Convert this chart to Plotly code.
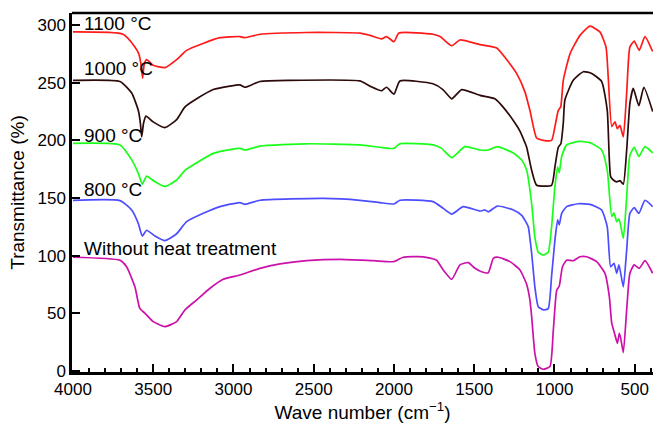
import plotly.graph_objects as go

# ---- data (wave number cm^-1, transmittance %) ----
wn_1100 = [4000, 3688, 3614, 3590, 3572, 3566, 3556, 3541, 3500, 3427, 3354, 3292, 3190, 3084, 2960, 2928, 2835, 2544,
           2212, 2150, 2077, 2046, 2000, 1969, 1757, 1713, 1640, 1589, 1464, 1360, 1298, 1236, 1184, 1153, 1111, 1070,
           1018, 997, 976, 961, 945, 903, 841, 779, 717, 679, 665, 643, 623, 608, 592, 571, 550, 530, 503, 472, 436, 388]
t_1100 = [294, 292, 281, 275, 262, 254, 266, 270, 265, 263, 270, 278, 284, 289, 290, 289, 292, 293.5,
          293, 291, 288, 290, 285.5, 293, 292, 290, 282, 287, 283, 280, 270, 258, 242, 226, 202, 200,
          200, 212, 226, 229, 252, 275, 291, 299, 294, 281, 255, 212, 216, 210, 213, 203, 241, 281, 286, 278, 290, 277]

wn_1000 = [4000, 3707, 3634, 3593, 3580, 3572, 3560, 3545, 3500, 3427, 3354, 3302, 3229, 3126, 3022, 2960, 2928, 2835,
           2648, 2212, 2150, 2077, 2046, 2000, 1963, 1757, 1695, 1640, 1578, 1464, 1371, 1321, 1246, 1215, 1184, 1173,
           1142, 1111, 1018, 997, 976, 960, 945, 935, 883, 820, 768, 706, 671, 650, 633, 612, 592, 571, 550, 530, 509,
           474, 443, 388]
t_1000 = [252, 251, 241, 226, 215, 203, 215, 221, 216, 211, 218, 229, 236, 244, 247, 248, 246, 251,
          252, 251.5, 247, 243, 246, 240, 251.5, 249, 244, 236, 244, 239, 236, 229, 215, 208, 198, 194,
          174, 161, 161, 177, 194, 197, 215, 235, 252, 259.5, 258, 251, 226, 168.5, 165.6, 164, 165, 162, 191.6, 232, 245,
          230, 246, 225]

wn_900 = [4000, 3707, 3634, 3593, 3568, 3541, 3489, 3427, 3354, 3302, 3229, 3126, 3022, 2960, 2928, 2835, 2544, 2212,
          2087, 2000, 1963, 1757, 1703, 1640, 1558, 1464, 1412, 1356, 1256, 1204, 1173, 1142, 1122, 1101, 1070, 1039,
          1018, 997, 980, 970, 955, 924, 851, 779, 706, 671, 643, 629, 612, 598, 571, 550, 530, 503, 474, 436, 388]
t_900 = [197.4, 196, 183, 171.4, 162, 169, 164, 160, 165.6, 174, 180.6, 188.7, 192, 193, 191.6, 195, 197, 196,
         194, 193, 197, 196, 193, 185, 194.5, 191.6, 191.6, 194.5, 189, 183, 174, 145, 116, 103, 100.6, 103,
         125, 160, 177, 172, 186, 196, 199, 198, 191.6, 174, 134, 137, 129.5, 132, 115, 151, 187, 194, 186, 194.5, 189]

wn_800 = [4000, 3707, 3634, 3593, 3568, 3541, 3489, 3427, 3354, 3292, 3188, 3084, 2960, 2928, 2835, 2440, 2212, 2087,
          2000, 1963, 1757, 1693, 1640, 1568, 1464, 1433, 1412, 1356, 1256, 1204, 1173, 1163, 1142, 1122, 1101, 1070,
          1039, 1018, 997, 980, 970, 955, 924, 851, 779, 706, 671, 650, 629, 612, 598, 571, 550, 530, 503, 474, 436, 388]
t_800 = [148, 147.7, 139.6, 128, 117, 122, 117, 113, 119, 129.5, 136.7, 142.5, 146, 144.5, 148, 149.6, 148, 146,
         144.8, 148, 146.8, 141, 136, 142.5, 138.7, 139.6, 138, 143, 139.6, 135, 128, 125, 102, 73, 55.7, 53,
         54, 82, 113.6, 131, 126.6, 136.7, 142.5, 145, 144.5, 139.6, 125, 90.4, 93.4, 84.7, 92, 73, 105, 136.7, 141.6,
         136.7, 148, 142.5]

wn_raw = [4000, 3707, 3666, 3614, 3583, 3551, 3500, 3427, 3354, 3302, 3229, 3146, 3064, 2960, 2835, 2710, 2544, 2336,
          2129, 2000, 1942, 1817, 1735, 1693, 1640, 1589, 1537, 1495, 1454, 1412, 1381, 1350, 1277, 1215, 1173, 1153,
          1142, 1122, 1101, 1070, 1028, 1007, 986, 970, 950, 924, 883, 841, 799, 737, 685, 658, 643, 623, 608, 596, 587,
          571, 550, 530, 503, 472, 436, 388]
t_raw = [98.6, 96, 90.4, 73, 54, 50, 42.8, 38.4, 42.8, 53, 61.6, 71.7, 79.5, 83.2, 89, 92.8, 95.6, 96.8,
         95.6, 94.8, 98.6, 99, 96, 87.6, 79.5, 92, 94, 89, 86, 85.2, 97.7, 98.6, 94.8, 87.6, 75, 61.6,
         47, 15.3, 3.8, 1.5, 3.8, 35.5, 70, 73.7, 90.4, 96, 95.6, 99, 99, 94.8, 84.6, 64.4, 41.4, 31.2, 24, 32.7, 28.3,
         15.9, 53, 84.7, 92, 89, 95.6, 84.7]

series_names = ["1100 °C", "1000 °C", "900 °C", "800 °C", "Without heat treatment"]
series_x = [wn_1100, wn_1000, wn_900, wn_800, wn_raw]
series_y = [t_1100, t_1000, t_900, t_800, t_raw]
series_colors = ["#ff1a1a", "#2d0a0a", "#1aff1a", "#4d4dff", "#cc10aa"]
label_y = [301.5, 262.7, 204.6, 157, 106.6]

x_ticks = [4000, 3500, 3000, 2500, 2000, 1500, 1000, 500]
y_ticks = [0, 50, 100, 150, 200, 250, 300]

FONT = "Liberation Sans, Arial, sans-serif"

fig = go.Figure()
for name, xs, ys, col in zip(series_names, series_x, series_y, series_colors):
    fig.add_trace(go.Scatter(x=xs, y=ys, mode="lines", name=name,
                             line=dict(color=col, width=1.7, shape="spline", smoothing=0.5)))

for name, ly in zip(series_names, label_y):
    fig.add_annotation(x=3944, y=ly, xref="x", yref="y", text=name, showarrow=False,
                       xanchor="left", yanchor="middle", font=dict(size=19, color="black", family=FONT))

fig.add_shape(type="line", xref="paper", yref="paper", x0=0, x1=1, y0=1, y1=1,
              line=dict(color="black", width=2.5))

fig.update_layout(
    width=653, height=425,
    margin=dict(l=72, r=0, t=13, b=53, autoexpand=False),
    paper_bgcolor="white", plot_bgcolor="white",
    showlegend=False,
    font=dict(family=FONT, size=17, color="black"),
    xaxis=dict(range=[4006, 386], tickvals=x_ticks, ticks="inside", ticklen=8, tickwidth=2,
               tickcolor="black", showline=True, linecolor="black", linewidth=2.5,
               showgrid=False, zeroline=False, automargin=False,
               minor=dict(dtick=100, tick0=0, ticks="inside", ticklen=4, tickwidth=1.5, tickcolor="black"),
               title=dict(text="Wave number (cm<sup>−1</sup>)", font=dict(size=19), standoff=4),
               tickfont=dict(size=17)),
    yaxis=dict(range=[-0.9, 310.4], tickvals=y_ticks, ticks="inside", ticklen=8, tickwidth=2,
               tickcolor="black", showline=True, linecolor="black", linewidth=2.5,
               showgrid=False, zeroline=False, automargin=False,
               title=dict(text="Transmittance (%)", font=dict(size=19), standoff=8),
               tickfont=dict(size=17)),
)

fig.write_html("out.html", config={"displayModeBar": False},
               post_script="document.body.style.margin='0px';document.body.style.overflow='hidden';")
